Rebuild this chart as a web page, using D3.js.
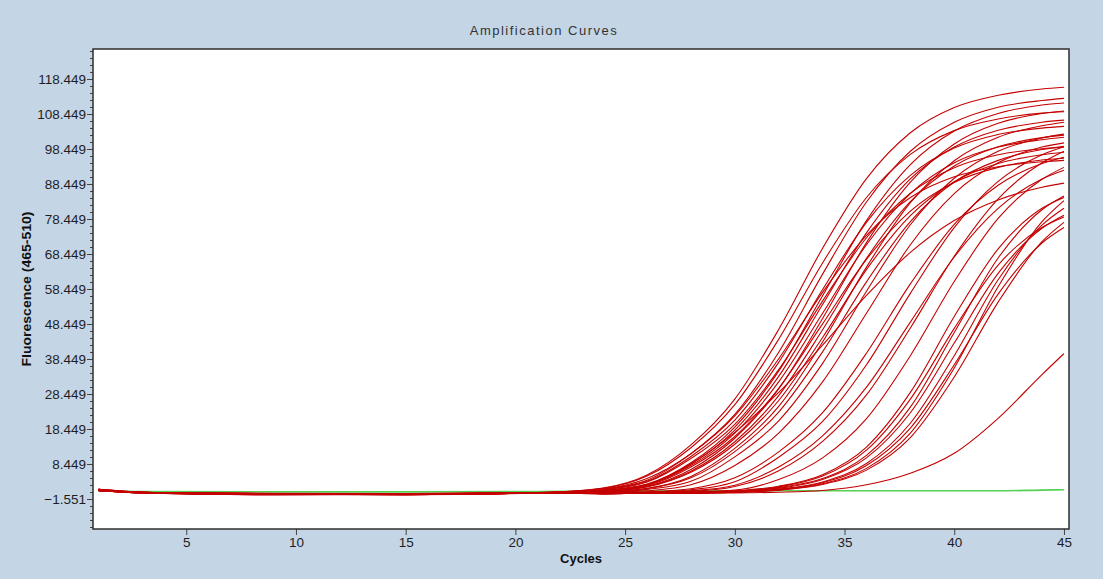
<!DOCTYPE html>
<html>
<head>
<meta charset="utf-8">
<script src="https://cdn.jsdelivr.net/npm/d3@7"></script>
<style>
  body { margin: 0; background: #c4d5e6; }
  svg text { font-family: "Liberation Sans", Arial, sans-serif; }
  .tick text { font-size: 13.5px; fill: #1e1e1e; }
  .tick line { stroke: #444; }
</style>
</head>
<body>
<svg id="amp" width="1103" height="579"></svg>
<script>
let cycles = [1, 3, 9, 15, 21, 24, 26, 28, 30, 32, 34, 36, 38, 40, 42, 44, 45];

// early bundle
let earlyCurves = [
  [1.2, 0.3, 0.0, -0.1, 0.3, 1.6, 5.3, 13.9, 27.0, 46.9, 70.1, 90.0, 103.1, 110.3, 113.8, 115.6, 116.1],
  [1.0, 0.4, -0.2, -0.2, 0.2, 1.5, 5.0, 13.1, 25.4, 44.1, 65.9, 84.6, 96.9, 103.7, 107.0, 108.7, 109.1],
  [0.9, 0.2, -0.1, -0.3, 0.2, 1.3, 4.3, 11.4, 22.2, 38.5, 57.5, 73.8, 84.6, 90.5, 93.4, 94.8, 95.2],
  [1.1, 0.3, 0.1, 0.0, 0.3, 1.3, 3.8, 11.4, 22.6, 40.4, 62.7, 83.3, 97.8, 106.1, 110.4, 112.3, 112.9],
  [0.8, 0.3, -0.2, -0.1, 0.1, 1.2, 3.5, 10.6, 21.0, 37.5, 58.3, 77.5, 90.9, 98.7, 102.6, 104.4, 104.9],
  [1.2, 0.4, 0.0, -0.2, 0.2, 1.1, 3.3, 10.0, 19.8, 35.4, 55.0, 73.1, 85.8, 93.1, 96.8, 98.5, 99.0],
  [0.9, 0.3, -0.1, -0.2, 0.1, 0.9, 2.7, 8.8, 19.0, 35.0, 56.5, 78.0, 94.0, 103.6, 108.6, 111.0, 111.6],
  [1.0, 0.2, -0.3, -0.3, 0.2, 0.9, 2.6, 8.4, 18.1, 33.5, 54.0, 74.5, 89.9, 99.0, 103.8, 106.1, 106.7],
  [1.1, 0.3, 0.0, -0.1, 0.3, 0.8, 2.5, 8.0, 17.3, 31.9, 51.5, 71.1, 85.7, 94.5, 99.0, 101.1, 101.8],
  [0.9, 0.4, -0.2, -0.2, 0.1, 0.8, 2.3, 7.6, 16.3, 30.1, 48.5, 66.9, 80.7, 88.9, 93.2, 95.3, 95.8],
  [1.0, 0.3, -0.1, 0.0, 0.2, 0.7, 2.1, 6.9, 15.8, 29.9, 50.0, 71.7, 89.0, 99.9, 105.8, 108.6, 109.3],
  [1.2, 0.2, -0.2, -0.3, 0.1, 0.6, 2.0, 6.4, 14.8, 28.0, 46.8, 67.2, 83.4, 93.6, 99.1, 101.7, 102.4],
  [0.8, 0.3, 0.0, -0.1, 0.2, 0.6, 1.9, 6.1, 14.1, 26.6, 44.6, 64.0, 79.4, 89.1, 94.3, 96.8, 97.5],
  [1.0, 0.4, -0.1, -0.2, 0.3, 0.5, 1.5, 4.9, 12.9, 24.9, 43.3, 64.7, 83.1, 95.1, 101.8, 105.1, 106.1],
  [1.1, 0.3, -0.3, -0.2, 0.2, 0.5, 1.4, 4.5, 12.0, 23.3, 40.5, 60.5, 77.7, 89.0, 95.2, 98.3, 99.2],
  [0.9, 0.2, 0.0, -0.1, 0.1, 0.4, 1.2, 3.5, 10.5, 20.8, 37.2, 57.8, 76.8, 90.1, 97.8, 101.6, 102.7]
];

// middle curves
let midCurves = [
  [1.0, 0.3, -0.1, -0.2, 0.1, 0.3, 0.8, 2.5, 8.0, 17.3, 31.9, 51.5, 71.1, 85.7, 94.5, 99.0, 100.2],
  [0.9, 0.2, -0.2, -0.1, 0.2, 0.2, 0.5, 1.4, 4.5, 11.9, 23.1, 40.1, 59.9, 76.9, 88.1, 94.3, 96.1],
  [1.1, 0.4, 0.0, -0.2, 0.1, 0.2, 0.4, 1.1, 3.4, 10.4, 20.6, 36.8, 57.2, 76.0, 89.2, 96.8, 99.1],
  [1.0, 0.3, -0.1, -0.3, 0.2, 0.1, 0.3, 0.8, 2.4, 7.6, 16.5, 30.4, 49.0, 67.6, 81.5, 89.9, 92.4],
  [0.8, 0.3, -0.2, -0.1, 0.1, 0.1, 0.3, 0.6, 2.0, 6.5, 14.9, 28.2, 47.3, 67.8, 84.2, 94.5, 97.8],
  [1.2, 0.4, 0.0, 0.0, 0.2, 0.8, 2.5, 8.5, 17.5, 28.9, 42.4, 56.6, 68.9, 78.0, 83.9, 87.5, 88.7],
  [0.9, 0.2, -0.1, -0.2, 0.1, 0.1, 0.2, 0.5, 1.0, 4.0, 10.2, 21.4, 39.4, 60.6, 78.6, 89.8, 93.2]
];

// late bundle
let lateCurves = [
  [1.0, 0.3, -0.2, -0.2, 0.2, 0.0, 0.1, 0.3, 0.8, 2.1, 5.4, 13.3, 28.9, 50.6, 69.9, 81.5, 84.6],
  [0.9, 0.4, 0.0, -0.1, 0.1, 0.0, 0.1, 0.2, 0.6, 1.7, 4.3, 10.9, 24.7, 46.0, 67.3, 81.1, 85.0],
  [1.1, 0.2, -0.1, -0.3, 0.2, 0.0, 0.1, 0.2, 0.6, 1.5, 4.0, 10.2, 23.1, 43.0, 62.9, 75.8, 79.5],
  [0.8, 0.3, -0.2, -0.2, 0.1, 0.0, 0.1, 0.2, 0.5, 1.3, 3.3, 8.6, 20.1, 39.4, 61.1, 76.7, 81.5],
  [1.0, 0.3, 0.0, -0.1, 0.2, 0.0, 0.1, 0.2, 0.4, 1.2, 3.1, 8.0, 18.7, 36.8, 57.0, 71.6, 76.0],
  [1.2, 0.4, -0.1, -0.2, 0.1, 0.0, 0.1, 0.1, 0.4, 1.0, 2.8, 7.2, 17.3, 35.9, 59.1, 77.7, 83.7],
  [0.9, 0.2, -0.3, -0.1, 0.2, 0.0, 0.1, 0.1, 0.4, 1.0, 2.6, 6.7, 16.0, 33.3, 54.7, 72.0, 77.5],
  [1.0, 0.3, -0.1, -0.2, 0.1, 0.0, 0.1, 0.3, 0.7, 1.9, 5.0, 12.4, 27.0, 47.2, 65.3, 76.0, 79.0],
  [1.0, 0.3, -0.2, -0.1, 0.2, 0.1, 0.1, 0.2, 0.2, 0.4, 0.9, 2.5, 5.8, 11.5, 21.5, 34.0, 40.0]
];

// negative control (green)
let controlCurve = [0.8, 0.6, 0.5, 0.5, 0.6, 0.7, 0.7, 0.8, 0.8, 0.8, 0.8, 0.8, 0.8, 0.8, 0.8, 1.0, 1.1];

let xTicks = [5, 10, 15, 20, 25, 30, 35, 40, 45];
let yTicks = [-1.551, 8.449, 18.449, 28.449, 38.449, 48.449, 58.449, 68.449, 78.449, 88.449, 98.449, 108.449, 118.449];

let chartTitle = 'Amplification Curves';
let xLabel = 'Cycles';
let yLabel = 'Fluorescence (465-510)';

////////////////////////////////// SETUP //////////////////////////////////
let plotLeft = 93, plotRight = 1069, plotTop = 49, plotBottom = 529;

let svg = d3.select('#amp');

let xScale = d3.scaleLinear()
  .domain([0.75, 45.23])
  .range([plotLeft, plotRight]);

let yScale = d3.scaleLinear()
  .domain([-10.12, 127.02])
  .range([plotBottom, plotTop]);

// title
svg.append('text')
  .attr('x', 544)
  .attr('y', 35)
  .attr('text-anchor', 'middle')
  .style('font-size', '13px')
  .style('letter-spacing', '1.5px')
  .style('fill', '#333')
  .text(chartTitle);

// plot area
svg.append('rect')
  .attr('x', plotLeft)
  .attr('y', plotTop)
  .attr('width', plotRight - plotLeft)
  .attr('height', plotBottom - plotTop)
  .attr('fill', '#fff');

svg.append('clipPath')
  .attr('id', 'plotClip')
  .append('rect')
  .attr('x', plotLeft)
  .attr('y', plotTop)
  .attr('width', plotRight - plotLeft)
  .attr('height', plotBottom - plotTop);

let line = d3.line()
  .x((d, i) => xScale(cycles[i]))
  .y((d) => yScale(d))
  .curve(d3.curveMonotoneX);

let curvesGroup = svg.append('g').attr('clip-path', 'url(#plotClip)');

curvesGroup.append('path')
  .datum(controlCurve)
  .attr('d', line)
  .attr('fill', 'none')
  .attr('stroke', '#55d055')
  .attr('stroke-width', 1.6);

let redCurves = earlyCurves.concat(midCurves, lateCurves);

curvesGroup.selectAll('path.sample')
  .data(redCurves)
  .enter()
  .append('path')
  .attr('class', 'sample')
  .attr('d', line)
  .attr('fill', 'none')
  .attr('stroke', '#c40000')
  .attr('stroke-width', 1.1);

// AXES
let minorY = d3.range(-9.551, 127, 2).filter((v) => !yTicks.some((t) => Math.abs(t - v) < 0.01));

svg.append('g')
  .attr('transform', `translate(${plotLeft}, 0)`)
  .call(d3.axisLeft(yScale).tickValues(minorY).tickSize(3).tickFormat(''))
  .call((g) => g.select('.domain').remove());

svg.append('g')
  .attr('transform', `translate(${plotLeft}, 0)`)
  .call(d3.axisLeft(yScale).tickValues(yTicks).tickSize(6).tickPadding(1).tickFormat(d3.format('.3f')))
  .call((g) => g.select('.domain').remove());

svg.append('g')
  .attr('transform', `translate(0, ${plotBottom})`)
  .call(d3.axisBottom(xScale).tickValues(xTicks).tickSize(6).tickPadding(2))
  .call((g) => g.select('.domain').remove());

// border
svg.append('rect')
  .attr('x', plotLeft)
  .attr('y', plotTop)
  .attr('width', plotRight - plotLeft)
  .attr('height', plotBottom - plotTop)
  .attr('fill', 'none')
  .attr('stroke', '#2e2e2e')
  .attr('stroke-width', 1.5);

// axis labels
svg.append('text')
  .attr('x', (plotLeft + plotRight) / 2)
  .attr('y', 563)
  .attr('text-anchor', 'middle')
  .style('font-size', '13px')
  .style('font-weight', 'bold')
  .style('fill', '#111')
  .text(xLabel);

svg.append('text')
  .attr('transform', `translate(31, ${(plotTop + plotBottom) / 2}) rotate(-90)`)
  .attr('text-anchor', 'middle')
  .attr('textLength', 155)
  .attr('lengthAdjust', 'spacingAndGlyphs')
  .style('font-size', '13px')
  .style('font-weight', 'bold')
  .style('fill', '#111')
  .text(yLabel);
</script>
</body>
</html>
